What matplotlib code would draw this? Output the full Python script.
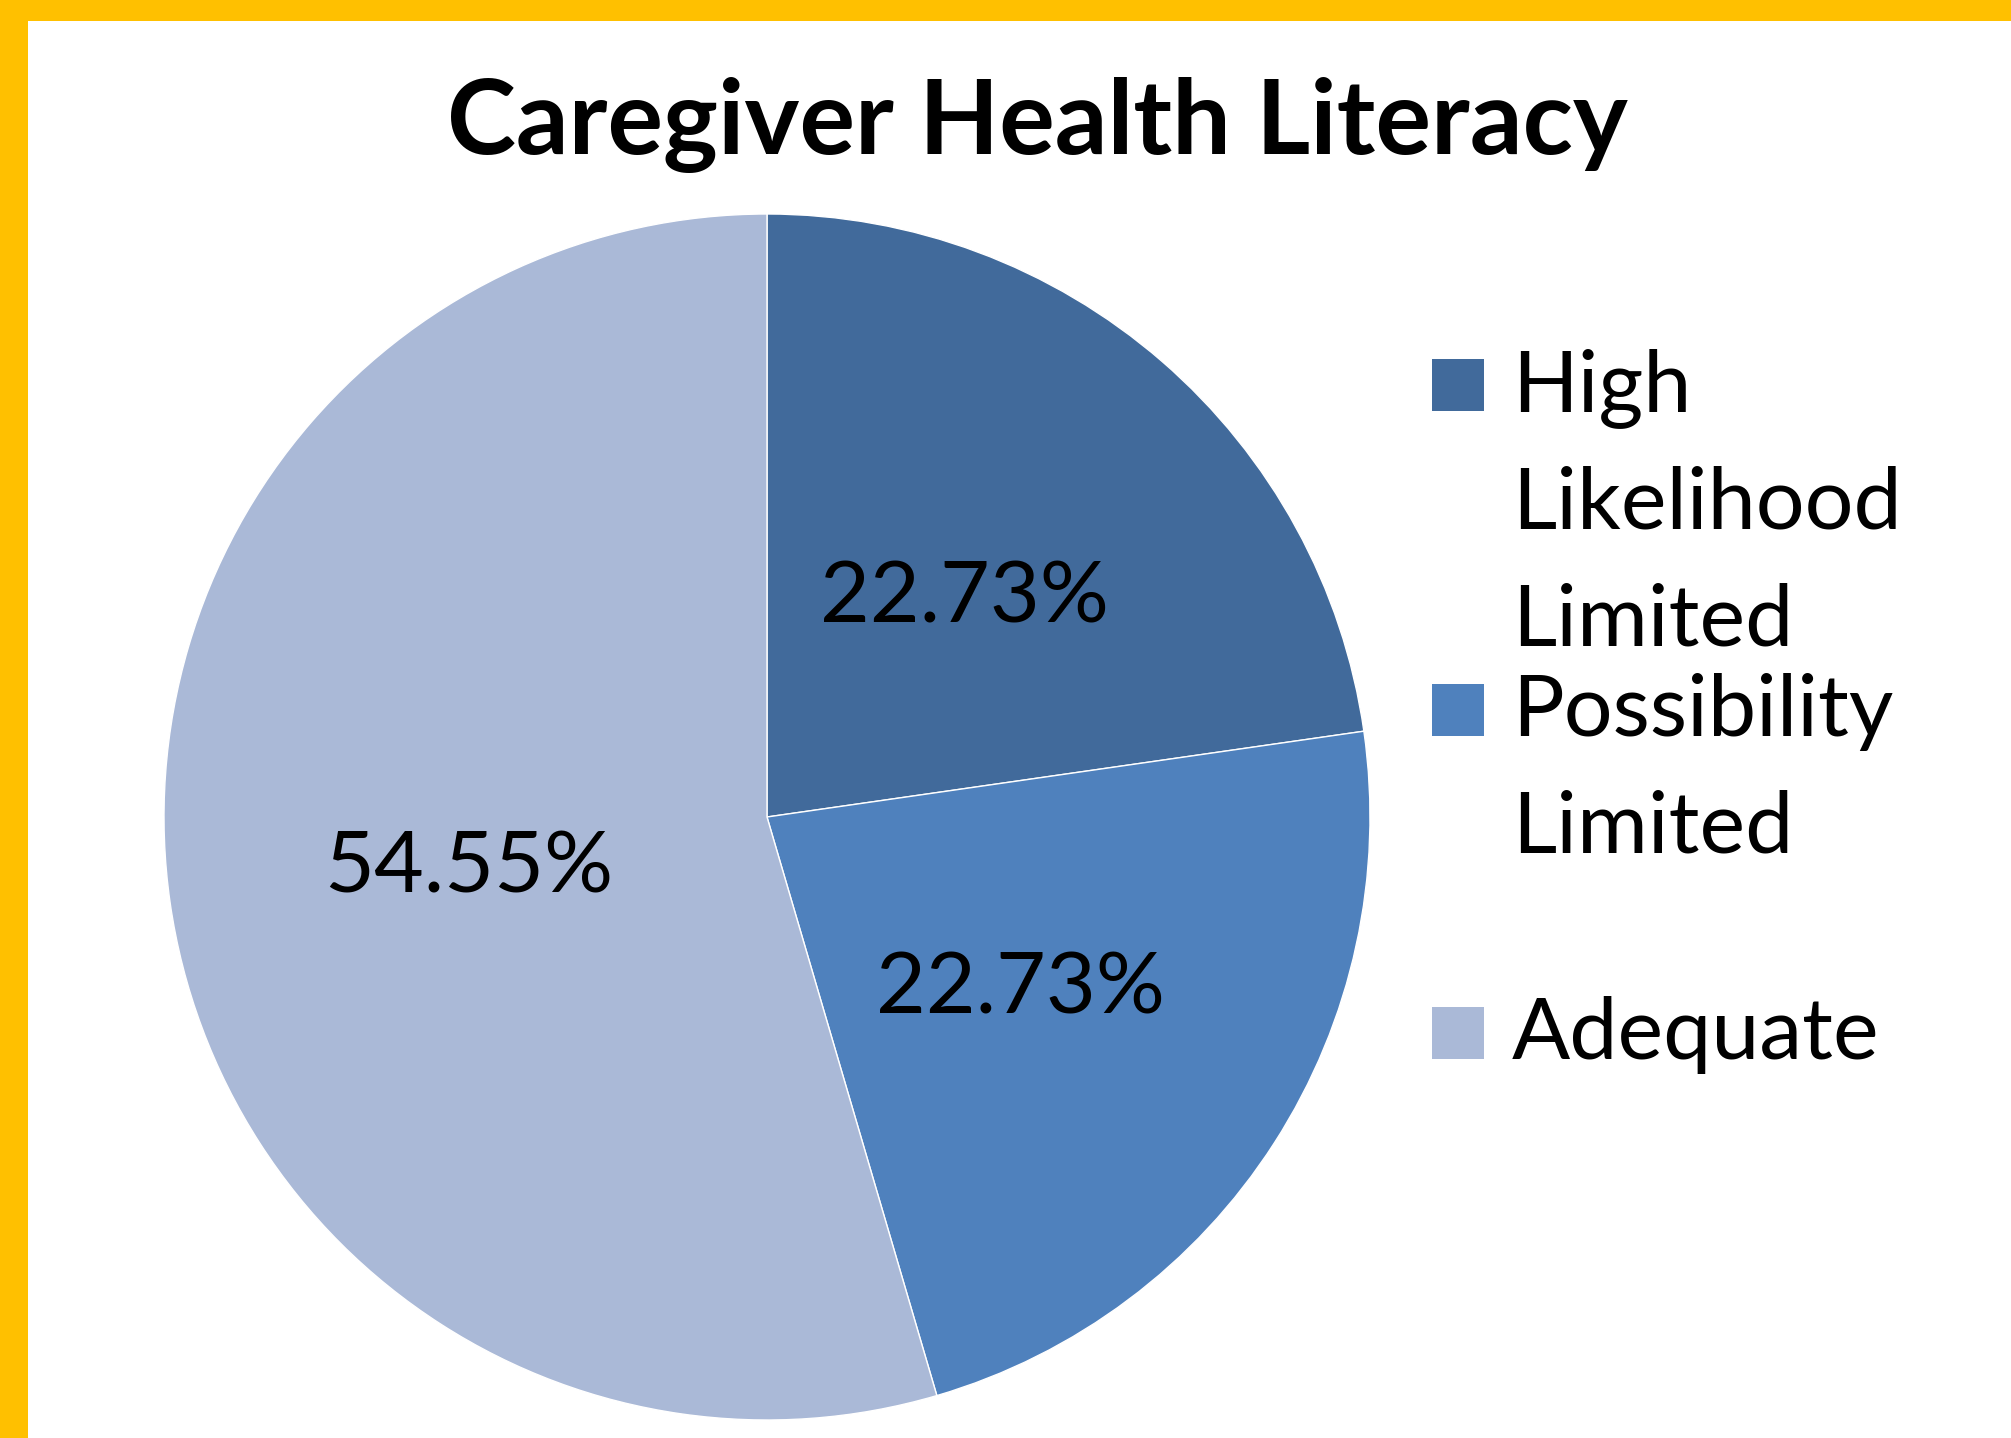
import matplotlib

matplotlib.use("Agg")
import matplotlib.pyplot as plt
from matplotlib.patches import Rectangle

# --- data
categories = ["High\nLikelihood\nLimited", "Possibility\nLimited", "Adequate"]
shares = [22.73, 22.73, 54.55]
colors = ["#416A9B", "#4F81BD", "#AAB9D7"]
title = "Caregiver Health Literacy"

W, H = 2011, 1438
plt.rcParams["font.family"] = ["Lato", "DejaVu Sans"]

fig = plt.figure(figsize=(W / 100, H / 100), dpi=100)
fig.patch.set_facecolor("white")

# yellow frame along top and left edge (the image is cropped on the other sides)
fig.patches.append(Rectangle((0, 1 - 21 / H), 1, 21 / H, transform=fig.transFigure,
                             facecolor="#FFC000", edgecolor="none"))
fig.patches.append(Rectangle((0, 0), 28 / W, 1, transform=fig.transFigure,
                             facecolor="#FFC000", edgecolor="none"))

# pie: centre (767, 817) px, radius 603 px
cx, cy, r = 767, 817, 603
ax = fig.add_axes([(cx - r) / W, (H - cy - r) / H, 2 * r / W, 2 * r / H])
wedges, _, autotexts = ax.pie(
    shares, colors=colors, startangle=90, counterclock=False,
    autopct="%.2f%%", pctdistance=0.5,
    wedgeprops=dict(edgecolor="white", linewidth=1.0),
    textprops=dict(fontsize=62, color="black"),
)
# show the values as read, not re-normalised ones (sum is 100.01)
for t, v in zip(autotexts, shares):
    t.set_text(f"{v:.2f}%")
    x, y = t.get_position()
    t.set_position((x, y - 0.015))
ax.set_xlim(-1, 1)
ax.set_ylim(-1, 1)
ax.set_aspect("auto")
ax.axis("off")

fig.text(1037 / W, 1 - 154 / H, title, ha="center", va="baseline",
         fontsize=75, fontweight="bold")

# legend, drawn by hand so the key squares sit at the first text line
sq_x, sq = 1432, 52
sq_tops = [359, 684, 1007]
line_step = 117
for lab, col, top in zip(categories, colors, sq_tops):
    fig.patches.append(Rectangle((sq_x / W, 1 - (top + sq) / H), sq / W, sq / H,
                                 transform=fig.transFigure, facecolor=col, edgecolor="none"))
    for i, line in enumerate(lab.split("\n")):
        fig.text(1512 / W, 1 - (top + sq + i * line_step) / H, line,
                 ha="left", va="baseline", fontsize=62)

fig.savefig("out.png", dpi=100)
